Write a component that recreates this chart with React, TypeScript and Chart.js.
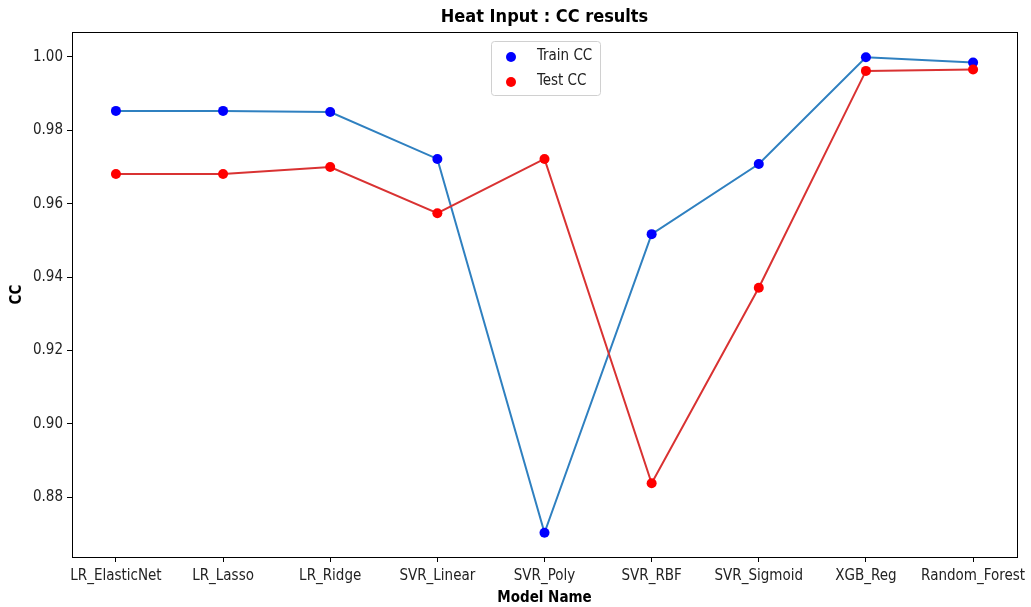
import React, { useEffect, useRef } from "react";
import { Chart, registerables } from "chart.js";

Chart.register(...registerables);

const models = ["LR_ElasticNet", "LR_Lasso", "LR_Ridge", "SVR_Linear", "SVR_Poly", "SVR_RBF", "SVR_Sigmoid", "XGB_Reg", "Random_Forest"];
const trainCC = [0.9853, 0.9853, 0.9850, 0.9722, 0.8703, 0.9517, 0.9708, 0.9999, 0.9985];
const testCC = [0.9681, 0.9681, 0.9700, 0.9574, 0.9722, 0.8838, 0.9371, 0.9962, 0.9966];
const yTicks = [0.88, 0.90, 0.92, 0.94, 0.96, 0.98, 1.00];
const chartTitle = "Heat Input : CC results";
const xTitle = "Model Name";
const yTitle = "CC";
const legendLabels = ["Train CC", "Test CC"];

const FONT = "'DejaVu Sans Condensed', 'DejaVu Sans', sans-serif";

export default function App() {
  const ref = useRef<HTMLCanvasElement | null>(null);
  useEffect(() => {
    if (!ref.current) return;
    const pts = (arr: number[]) => arr.map((v, i) => ({ x: i, y: v }));
    const deco = {
      id: "deco",
      afterDraw(chart: any) {
        const { ctx, chartArea: a } = chart;
        ctx.save();
        ctx.strokeStyle = "#000";
        ctx.lineWidth = 1;
        ctx.strokeRect(Math.round(a.left) + 0.5, Math.round(a.top) + 0.5, Math.round(a.right - a.left), Math.round(a.bottom - a.top));
        ctx.fillStyle = "#000";
        ctx.textAlign = "center";
        ctx.textBaseline = "middle";
        ctx.font = `bold 18px ${FONT}`;
        ctx.fillText(chartTitle, (a.left + a.right) / 2, 17);
        ctx.font = `bold 15px ${FONT}`;
        ctx.fillText(xTitle, (a.left + a.right) / 2, 598);
        ctx.save();
        ctx.translate(17, (a.top + a.bottom) / 2);
        ctx.rotate(-Math.PI / 2);
        ctx.fillText(yTitle, 0, 0);
        ctx.restore();
        // legend
        const lx = 491, ly = 41, lw = 109, lh = 54;
        ctx.fillStyle = "rgba(255,255,255,0.8)";
        ctx.strokeStyle = "#d0d0d0";
        ctx.beginPath();
        (ctx as any).roundRect(lx + 0.5, ly + 0.5, lw, lh, 3);
        ctx.fill();
        ctx.stroke();
        const colors = ["blue", "red"];
        ctx.font = `15px ${FONT}`;
        ctx.textAlign = "left";
        legendLabels.forEach((lab, i) => {
          const cy = ly + 15 + i * 25;
          ctx.fillStyle = colors[i];
          ctx.beginPath();
          ctx.arc(511, cy + 1, 5, 0, Math.PI * 2);
          ctx.fill();
          ctx.fillStyle = "#222";
          ctx.fillText(lab, 537, cy);
        });
        ctx.restore();
      },
    };
    const chart = new Chart(ref.current, {
      type: "scatter",
      data: {
        datasets: [
          { type: "line", data: pts(trainCC), borderColor: "#2f80c0", borderWidth: 2, pointRadius: 0, fill: false, order: 4 } as any,
          { data: pts(trainCC), backgroundColor: "blue", borderColor: "blue", pointRadius: 5, pointBorderWidth: 0, order: 3 },
          { type: "line", data: pts(testCC), borderColor: "#d93232", borderWidth: 2, pointRadius: 0, fill: false, order: 2 } as any,
          { data: pts(testCC), backgroundColor: "red", borderColor: "red", pointRadius: 5, pointBorderWidth: 0, order: 1 },
        ],
      },
      plugins: [deco],
      options: {
        animation: false,
        responsive: false,
        layout: { padding: { top: 32, right: 14, left: 0, bottom: 0 } },
        plugins: { legend: { display: false }, title: { display: false }, tooltip: { enabled: false } },
        scales: {
          x: {
            type: "linear",
            min: -0.41,
            max: 8.41,
            afterFit: (s: any) => { s.height = 50; },
            afterBuildTicks: (s: any) => { s.ticks = models.map((_, i) => ({ value: i })); },
            ticks: {
              autoSkip: false,
              maxRotation: 0,
              color: "#222",
              font: { family: FONT, size: 15 },
              padding: 5,
              callback: (v: any) => models[v as number] ?? "",
            },
            grid: { drawOnChartArea: false, color: "#000", tickLength: 5, drawTicks: true },
            border: { display: false },
          },
          y: {
            type: "linear",
            min: 0.8637,
            max: 1.0068,
            afterFit: (s: any) => { s.width = 72; },
            afterBuildTicks: (s: any) => { s.ticks = yTicks.map((v) => ({ value: v })); },
            ticks: {
              color: "#222",
              font: { family: FONT, size: 15 },
              padding: 4,
              callback: (v: any) => Number(v).toFixed(2),
            },
            grid: { drawOnChartArea: false, color: "#000", tickLength: 5, drawTicks: true },
            border: { display: false },
          },
        },
      },
    });
    return () => chart.destroy();
  }, []);
  return (
    <div style={{ position: "fixed", left: 0, top: 0, width: 1031, height: 607, background: "#fff" }}>
      <canvas ref={ref} width={1031} height={607} style={{ width: 1031, height: 607 }} />
    </div>
  );
}
